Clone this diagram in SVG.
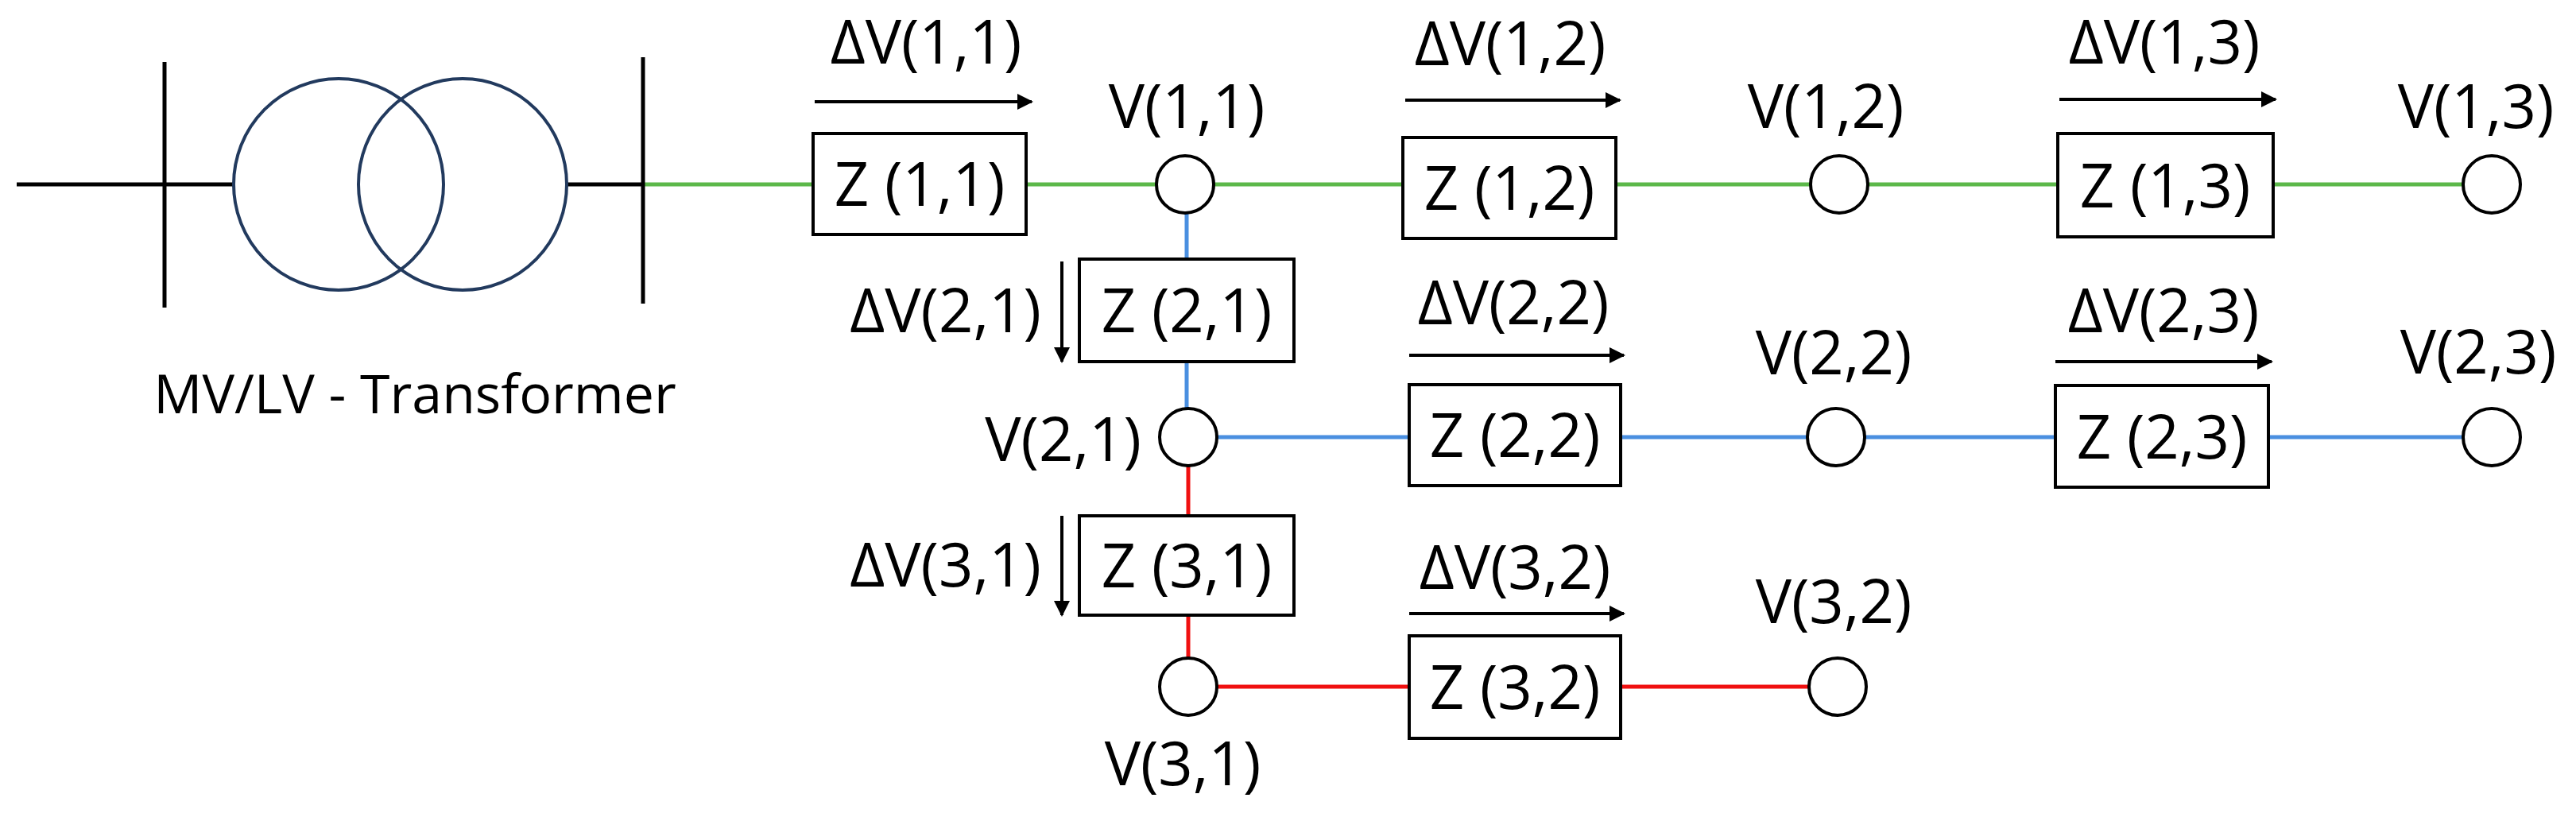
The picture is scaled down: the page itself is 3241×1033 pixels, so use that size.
<svg xmlns="http://www.w3.org/2000/svg" width="3241" height="1033" viewBox="0 0 3241 1033">
<defs>
<marker id="ah" viewBox="0 0 10 10" refX="9" refY="5" markerWidth="5" markerHeight="5" orient="auto" markerUnits="strokeWidth"><path d="M0,0 L10,5 L0,10 z" fill="#000"/></marker>
<style>
text{font-family:"Open Sans","Liberation Sans",sans-serif;font-size:76px;fill:#000}
.m{text-anchor:middle}.e{text-anchor:end}
.box{fill:#fff;stroke:#000;stroke-width:4}
.node{fill:#fff;stroke:#000;stroke-width:4}
.g{stroke:#5cb84a;stroke-width:5;fill:none}
.b{stroke:#4a8fe0;stroke-width:5;fill:none}
.r{stroke:#f01010;stroke-width:5;fill:none}
.k{stroke:#000;stroke-width:5;fill:none}
.arr{stroke:#000;stroke-width:4;fill:none;marker-end:url(#ah)}
</style>
</defs>
<g id="connectors">
<line class="k" x1="21" y1="232" x2="294" y2="232"/>
<line class="k" x1="713" y1="232" x2="809" y2="232"/>
<line class="g" x1="809" y1="232" x2="3099" y2="232"/>
<line class="b" x1="1493" y1="268" x2="1493" y2="514"/>
<line class="b" x1="1531" y1="550" x2="3099" y2="550"/>
<line class="r" x1="1495" y1="586" x2="1495" y2="828"/>
<line class="r" x1="1531" y1="864" x2="2276" y2="864"/>
<line class="arr" x1="1025" y1="128" x2="1298" y2="128"/>
<line class="arr" x1="1768" y1="126" x2="2038" y2="126"/>
<line class="arr" x1="2591" y1="125" x2="2863" y2="125"/>
<line class="arr" x1="1773" y1="447" x2="2043" y2="447"/>
<line class="arr" x1="2586" y1="455" x2="2858" y2="455"/>
<line class="arr" x1="1773" y1="772" x2="2043" y2="772"/>
<line class="arr" x1="1336" y1="329" x2="1336" y2="455"/>
<line class="arr" x1="1336" y1="649" x2="1336" y2="774"/>
</g>
<g id="transformer">
<line class="k" x1="207" y1="78" x2="207" y2="387" stroke-width="4"/>
<line class="k" x1="809" y1="72" x2="809" y2="382" stroke-width="4"/>
<ellipse cx="426" cy="232" rx="132" ry="133" fill="none" stroke="#223a5e" stroke-width="4"/>
<ellipse cx="582" cy="232" rx="131" ry="133" fill="none" stroke="#223a5e" stroke-width="4"/>
<text class="m" x="522" y="520" style="font-size:68px">MV/LV - Transformer</text>
</g>
<g id="Z11"><rect class="box" x="1023" y="168" width="268" height="127"/><text class="m" x="1157" y="259">Z (1,1)</text><text class="m" x="1165" y="80">ΔV(1,1)</text></g>
<g id="Z12"><rect class="box" x="1765" y="173" width="268" height="127"/><text class="m" x="1899" y="264">Z (1,2)</text><text class="m" x="1900" y="82">ΔV(1,2)</text></g>
<g id="Z13"><rect class="box" x="2589" y="168" width="271" height="130"/><text class="m" x="2724" y="261">Z (1,3)</text><text class="m" x="2723" y="80">ΔV(1,3)</text></g>
<g id="Z21"><rect class="box" x="1358" y="326" width="270" height="129"/><text class="m" x="1493" y="418">Z (2,1)</text><text class="e" x="1310" y="418">ΔV(2,1)</text></g>
<g id="Z22"><rect class="box" x="1773" y="484" width="266" height="127"/><text class="m" x="1906" y="575">Z (2,2)</text><text class="m" x="1904" y="408">ΔV(2,2)</text></g>
<g id="Z23"><rect class="box" x="2586" y="485" width="268" height="128"/><text class="m" x="2720" y="577">Z (2,3)</text><text class="m" x="2722" y="418">ΔV(2,3)</text></g>
<g id="Z31"><rect class="box" x="1358" y="649" width="270" height="125"/><text class="m" x="1493" y="739">Z (3,1)</text><text class="e" x="1310" y="738">ΔV(3,1)</text></g>
<g id="Z32"><rect class="box" x="1773" y="800" width="266" height="129"/><text class="m" x="1906" y="892">Z (3,2)</text><text class="m" x="1906" y="741">ΔV(3,2)</text></g>
<g id="V11"><circle class="node" cx="1491" cy="232" r="36"/><text class="m" x="1493" y="161">V(1,1)</text></g>
<g id="V12"><circle class="node" cx="2314" cy="232" r="36"/><text class="m" x="2297" y="161">V(1,2)</text></g>
<g id="V13"><circle class="node" cx="3135" cy="232" r="36"/><text class="m" x="3115" y="161">V(1,3)</text></g>
<g id="V21"><circle class="node" cx="1495" cy="550" r="36"/><text class="e" x="1436" y="580">V(2,1)</text></g>
<g id="V22"><circle class="node" cx="2310" cy="550" r="36"/><text class="m" x="2307" y="471">V(2,2)</text></g>
<g id="V23"><circle class="node" cx="3135" cy="550" r="36"/><text class="m" x="3118" y="470">V(2,3)</text></g>
<g id="V31"><circle class="node" cx="1495" cy="864" r="36"/><text class="m" x="1488" y="988">V(3,1)</text></g>
<g id="V32"><circle class="node" cx="2312" cy="864" r="36"/><text class="m" x="2307" y="784">V(3,2)</text></g>
</svg>
